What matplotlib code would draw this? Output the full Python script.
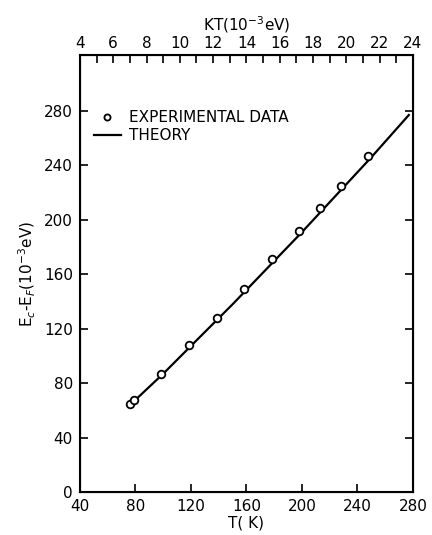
import numpy as np
import matplotlib
matplotlib.use('Agg')
import matplotlib.pyplot as plt

# measured points (temperature in K, Ec-Ef in meV)
temp_data = [76.3, 78.9, 98.5, 118.8, 139.1, 158.2, 178.5, 198.1, 213.1, 228.2, 247.7]
energy_data = [64.7, 67.4, 87.0, 107.9, 127.7, 148.9, 170.9, 192.1, 208.4, 225.0, 247.1]

# theory curve
temp_theory = [75, 100, 150, 200, 250, 277]
energy_theory = [63, 87, 138, 191, 246, 277]

bottom_ticks = [40, 80, 120, 160, 200, 240, 280]
left_ticks = [0, 40, 80, 120, 160, 200, 240, 280]
top_ticks = [4, 6, 8, 10, 12, 14, 16, 18, 20, 22, 24]

plt.rcParams['font.family'] = 'DejaVu Sans'
plt.rcParams['font.size'] = 11

my_dpi = 100
fig = plt.figure(figsize=(432 / my_dpi, 535 / my_dpi), dpi=my_dpi)
ax = fig.add_axes([0.185, 0.080, 0.771, 0.817])

ax.plot(temp_theory, energy_theory, color='black', lw=1.6, label='THEORY', zorder=2)
ax.plot(temp_data, energy_data, ls='none', marker='o', ms=5.5, mfc='white',
        mec='black', mew=1.3, label='EXPERIMENTAL DATA', zorder=3)

ax.set_xlim(40, 280)
ax.set_ylim(0, 321)
ax.set_xticks(bottom_ticks)
ax.set_yticks(left_ticks)
ax.tick_params(direction='in', length=6, width=1.2, right=True, labelsize=11)
ax.tick_params(axis='y', pad=5)
ax.tick_params(axis='x', pad=5)
for s in ax.spines.values():
    s.set_linewidth(1.5)

ax.set_xlabel('T( K)', fontsize=11, labelpad=1)
ax.set_ylabel(r'E$_c$-E$_F$(10$^{-3}$eV)', fontsize=11, labelpad=4)

top = ax.twiny()
top.set_xlim(4, 24)
top.set_xticks(top_ticks)
top.set_xticks(np.arange(4, 25, 1), minor=True)
top.tick_params(which='both', direction='in', length=6, width=1.2, labelsize=11, pad=3)
top.set_xlabel(r'KT(10$^{-3}$eV)', fontsize=11, labelpad=4)

handles, labels = ax.get_legend_handles_labels()
ax.legend(handles[::-1], labels[::-1], loc='upper left', frameon=False,
          bbox_to_anchor=(0.0, 0.905), handlelength=1.8, handletextpad=0.5,
          labelspacing=0.2, markerscale=0.8, fontsize=11)

plt.savefig('out.png', dpi=my_dpi)
plt.close()
